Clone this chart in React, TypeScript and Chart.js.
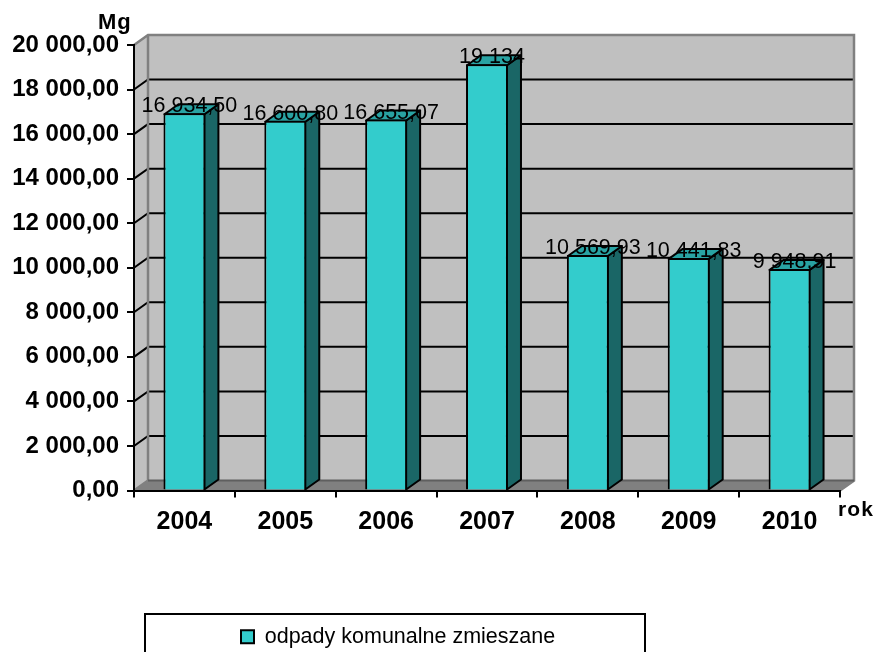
import React, { useEffect, useRef } from "react";
import { Chart, registerables } from "chart.js";

Chart.register(...registerables);

const categories = ["2004", "2005", "2006", "2007", "2008", "2009", "2010"];
const seriesLabel = "odpady komunalne zmieszane";
const seriesValues = [16934.5, 16600.8, 16655.07, 19134, 10569.93, 10441.83, 9948.91];
const valueLabels = ["16 934,50", "16 600,80", "16 655,07", "19 134", "10 569,93", "10 441,83", "9 948,91"];
const yTickLabels = [
  "0,00", "2 000,00", "4 000,00", "6 000,00", "8 000,00", "10 000,00",
  "12 000,00", "14 000,00", "16 000,00", "18 000,00", "20 000,00",
];

const FONT = '"Liberation Sans", Arial, sans-serif';
const DX = 14;
const DY = 10;
const LEGEND_BOX = { left: 145, right: 645, top: 614, bottom: 652 };

const poly = (ctx: CanvasRenderingContext2D, pts: number[][]) => {
  ctx.beginPath();
  pts.forEach(([x, y], i) => (i ? ctx.lineTo(x, y) : ctx.moveTo(x, y)));
  ctx.closePath();
};

const plugin3d = {
  id: "plugin3d",
  afterLayout(chart: any) {
    const l = chart.legend;
    if (l) {
      l.left = 235;
      l.right = LEGEND_BOX.right;
      l.top = 620;
      l.bottom = LEGEND_BOX.bottom;
    }
  },
  beforeDraw(chart: any) {
    const { ctx, chartArea: a, scales } = chart;
    const y = scales.y;
    ctx.save();
    ctx.fillStyle = "#ffffff";
    ctx.fillRect(0, 0, chart.width, chart.height);
    // back wall and left wall
    ctx.fillStyle = "#c0c0c0";
    ctx.fillRect(a.left + DX, a.top - DY, a.right - a.left, a.bottom - a.top);
    poly(ctx, [[a.left, a.top], [a.left + DX, a.top - DY], [a.left + DX, a.bottom - DY], [a.left, a.bottom]]);
    ctx.fill();
    // floor
    ctx.fillStyle = "#808080";
    poly(ctx, [[a.left, a.bottom], [a.right, a.bottom], [a.right + DX, a.bottom - DY], [a.left + DX, a.bottom - DY]]);
    ctx.fill();
    // wall grid
    ctx.lineWidth = 2;
    y.ticks.forEach((t: any) => {
      const py = y.getPixelForValue(t.value);
      if (t.value === 0 || t.value === y.max) return;
      ctx.strokeStyle = "#000000";
      ctx.beginPath();
      ctx.moveTo(a.left, py);
      ctx.lineTo(a.left + DX, py - DY);
      ctx.lineTo(a.right + DX, py - DY);
      ctx.stroke();
    });
    // wall edges
    ctx.strokeStyle = "#808080";
    ctx.lineWidth = 2.5;
    ctx.beginPath();
    ctx.moveTo(a.left, a.top);
    ctx.lineTo(a.left + DX, a.top - DY);
    ctx.lineTo(a.right + DX, a.top - DY);
    ctx.lineTo(a.right + DX, a.bottom - DY);
    ctx.lineTo(a.right, a.bottom);
    ctx.moveTo(a.left + DX, a.top - DY);
    ctx.lineTo(a.left + DX, a.bottom - DY);
    ctx.lineTo(a.left, a.bottom);
    ctx.stroke();
    ctx.strokeStyle = "#5f5f5f";
    ctx.lineWidth = 2;
    ctx.beginPath();
    ctx.moveTo(a.left + DX, a.bottom - DY);
    ctx.lineTo(a.right + DX, a.bottom - DY);
    ctx.stroke();
    ctx.restore();
  },
  beforeDatasetsDraw(chart: any) {
    const { ctx } = chart;
    ctx.save();
    ctx.strokeStyle = "#000000";
    ctx.lineWidth = 2;
    ctx.lineJoin = "round";
    chart.getDatasetMeta(0).data.forEach((bar: any) => {
      const l = bar.x - bar.width / 2 + 1;
      const r = bar.x + bar.width / 2 - 1;
      const t = bar.y + 1;
      const b = bar.base;
      ctx.fillStyle = "#1a6666";
      poly(ctx, [[r, t], [r + DX, t - DY], [r + DX, b - DY], [r, b]]);
      ctx.fill();
      ctx.stroke();
      ctx.fillStyle = "#29a3a3";
      poly(ctx, [[l, t], [l + DX, t - DY], [r + DX, t - DY], [r, t]]);
      ctx.fill();
      ctx.stroke();
    });
    ctx.restore();
  },
  afterDatasetsDraw(chart: any) {
    const { ctx } = chart;
    ctx.save();
    ctx.fillStyle = "#000000";
    ctx.textAlign = "center";
    ctx.textBaseline = "alphabetic";
    ctx.font = `21.5px ${FONT}`;
    chart.getDatasetMeta(0).data.forEach((bar: any, i: number) => {
      ctx.fillText(valueLabels[i], bar.x + 5, bar.y - 1);
    });
    ctx.textAlign = "left";
    ctx.font = `bold 22px ${FONT}`;
    (ctx as any).letterSpacing = "1px";
    ctx.fillText("Mg", 98, 29);
    ctx.font = `bold 21px ${FONT}`;
    (ctx as any).letterSpacing = "1.1px";
    ctx.fillText("rok", 838, 516);
    (ctx as any).letterSpacing = "0px";
    // legend frame
    ctx.strokeStyle = "#000000";
    ctx.lineWidth = 2;
    ctx.strokeRect(LEGEND_BOX.left, LEGEND_BOX.top, LEGEND_BOX.right - LEGEND_BOX.left, 60);
    ctx.restore();
  },
};

export default function App() {
  const ref = useRef<HTMLCanvasElement | null>(null);
  useEffect(() => {
    if (!ref.current) return;
    const chart = new Chart(ref.current, {
      type: "bar",
      data: {
        labels: categories,
        datasets: [
          {
            label: seriesLabel,
            data: seriesValues,
            backgroundColor: "#33cccc",
            borderColor: "#000000",
            borderWidth: 2,
            borderSkipped: "bottom",
            barPercentage: 0.416,
            categoryPercentage: 1,
          },
        ],
      },
      options: {
        animation: false,
        responsive: false,
        devicePixelRatio: 1,
        layout: { padding: { left: 0, top: 45, right: 36, bottom: 0 } },
        plugins: {
          title: { display: false },
          tooltip: { enabled: false },
          legend: {
            display: true,
            position: "chartArea",
            align: "start",
            labels: {
              boxWidth: 13,
              boxHeight: 13,
              padding: 6,
              color: "#000000",
              font: { family: FONT, size: 21.5 },
            },
          },
        },
        scales: {
          x: {
            afterFit: (s: any) => {
              s.height = 161.5;
            },
            grid: { drawOnChartArea: false, color: "#000000", lineWidth: 2, tickLength: 7, offset: true },
            border: { color: "#000000", width: 2 },
            ticks: {
              color: "#000000",
              padding: 10,
              maxRotation: 0,
              font: { family: FONT, size: 25, weight: "bold" },
            },
          },
          y: {
            min: 0,
            max: 20000,
            afterFit: (s: any) => {
              s.width = 134;
            },
            grid: { drawOnChartArea: false, color: "#000000", lineWidth: 2, tickLength: 7 },
            border: { color: "#000000", width: 2 },
            ticks: {
              stepSize: 2000,
              color: "#000000",
              padding: 8,
              font: { family: FONT, size: 24, weight: "bold" },
              callback: (_v: any, i: number) => yTickLabels[i],
            },
          },
        },
      },
      plugins: [plugin3d],
    } as any);
    return () => chart.destroy();
  }, []);
  return (
    <div style={{ position: "fixed", left: 0, top: 0, width: 876, height: 652, overflow: "hidden", background: "#fff" }}>
      <canvas ref={ref} width={876} height={652} style={{ display: "block" }} />
    </div>
  );
}
